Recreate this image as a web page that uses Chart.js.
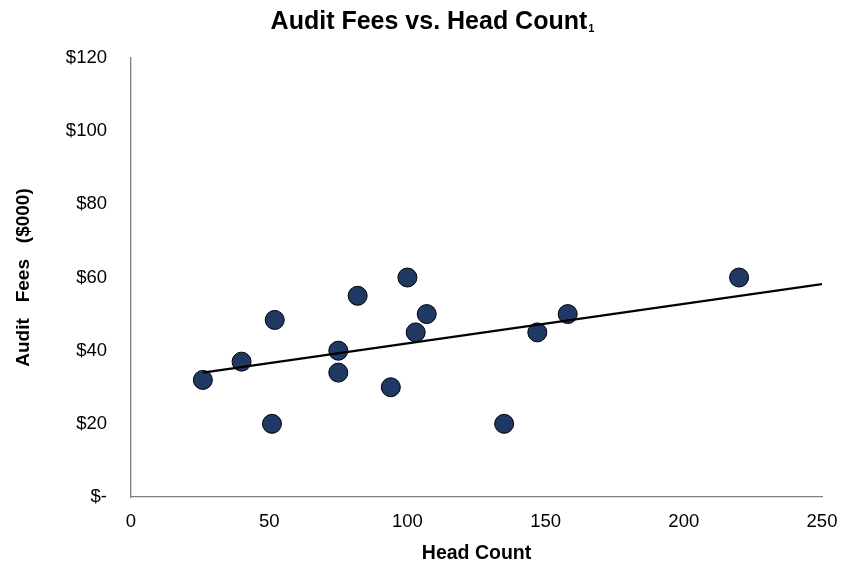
<!DOCTYPE html>
<html>
<head>
<meta charset="utf-8">
<script src="https://cdn.jsdelivr.net/npm/chart.js@4"></script>
<style>
  html, body { margin: 0; padding: 0; background: #ffffff; }
  #wrap { width: 864px; height: 567px; position: relative; }
</style>
</head>
<body>
<div id="wrap"><canvas id="c" width="864" height="567"></canvas></div>
<script>
// ---- data ----
const headCount = [26, 40, 52, 51, 75, 75, 82, 94, 100, 103, 107, 135, 147, 158, 220];
const auditFees = [32, 37, 48.4, 20, 40, 34, 55, 30, 60, 45, 50, 20, 45, 50, 60];
const xTicks = [0, 50, 100, 150, 200, 250];
const yTicks = [0, 20, 40, 60, 80, 100, 120];
const chartTitle = 'Audit Fees vs. Head Count';
const titleSub = '1';
const xTitle = 'Head Count';
const yTitle = 'Audit   Fees   ($000)';

// least-squares trend line, extended to x-axis max
const n = headCount.length;
const mx = headCount.reduce((a, b) => a + b, 0) / n;
const my = auditFees.reduce((a, b) => a + b, 0) / n;
let sxy = 0, sxx = 0;
for (let i = 0; i < n; i++) { sxy += (headCount[i] - mx) * (auditFees[i] - my); sxx += (headCount[i] - mx) ** 2; }
const slope = sxy / sxx;
const icpt = my - slope * mx;
const trendX = [Math.min(...headCount), xTicks[xTicks.length - 1]];
const trend = trendX.map(x => ({ x: x, y: icpt + slope * x }));

const points = headCount.map((x, i) => ({ x: x, y: auditFees[i] }));

const FONT = '"Liberation Sans", Arial, sans-serif';

const titlePlugin = {
  id: 'titleSub',
  afterDraw(chart) {
    const ctx = chart.ctx;
    ctx.save();
    ctx.fillStyle = '#000';
    ctx.textBaseline = 'middle';
    ctx.textAlign = 'left';
    ctx.font = 'bold 25px ' + FONT;
    const w = ctx.measureText(chartTitle).width;
    ctx.font = 'bold 11px ' + FONT;
    const ws = ctx.measureText(titleSub).width;
    const x0 = 432 - (w + ws) / 2;
    ctx.font = 'bold 25px ' + FONT;
    ctx.fillText(chartTitle, x0, 22);
    ctx.font = 'bold 11px ' + FONT;
    ctx.fillText(titleSub, x0 + w + 1, 29);
    ctx.restore();
  }
};

new Chart(document.getElementById('c'), {
  type: 'scatter',
  data: {
    datasets: [
      {
        type: 'line',
        data: trend,
        borderColor: '#000000',
        borderWidth: 2.25,
        pointRadius: 0,
        fill: false,
        order: 0
      },
      {
        data: points,
        backgroundColor: '#203864',
        borderColor: '#000000',
        borderWidth: 1,
        pointRadius: 9.5,
        pointHoverRadius: 9.5,
        order: 1
      }
    ]
  },
  options: {
    responsive: false,
    animation: false,
    devicePixelRatio: 1,
    layout: { padding: { top: 58, right: 42, bottom: 0, left: 0 } },
    plugins: {
      legend: { display: false },
      tooltip: { enabled: false },
      title: { display: false }
    },
    scales: {
      x: {
        type: 'linear',
        min: xTicks[0],
        max: xTicks[xTicks.length - 1],
        afterBuildTicks: s => { s.ticks = xTicks.map(v => ({ value: v })); },
        afterFit: s => { s.height = 70; },
        grid: { display: false, drawTicks: false },
        border: { display: true, color: '#7f7f7f', width: 1.3 },
        ticks: {
          padding: 14,
          color: '#000',
          font: { family: FONT, size: 18.5 }
        },
        title: {
          display: true,
          text: xTitle,
          color: '#000',
          font: { family: FONT, size: 19.5, weight: 'bold' },
          padding: { top: 0, bottom: 2 }
        }
      },
      y: {
        type: 'linear',
        min: yTicks[0],
        max: yTicks[yTicks.length - 1],
        afterBuildTicks: s => { s.ticks = yTicks.map(v => ({ value: v })); },
        afterFit: s => { s.width = 131; },
        grid: { display: false, drawTicks: false },
        border: { display: true, color: '#7f7f7f', width: 1.3 },
        ticks: {
          padding: 24,
          color: '#000',
          font: { family: FONT, size: 18.5 },
          callback: v => (v === 0 ? '$-' : '$' + v)
        },
        title: {
          display: true,
          text: yTitle,
          color: '#000',
          font: { family: FONT, size: 19, weight: 'bold' },
          padding: { top: 12, bottom: 0 }
        }
      }
    }
  },
  plugins: [titlePlugin]
});
</script>
</body>
</html>
